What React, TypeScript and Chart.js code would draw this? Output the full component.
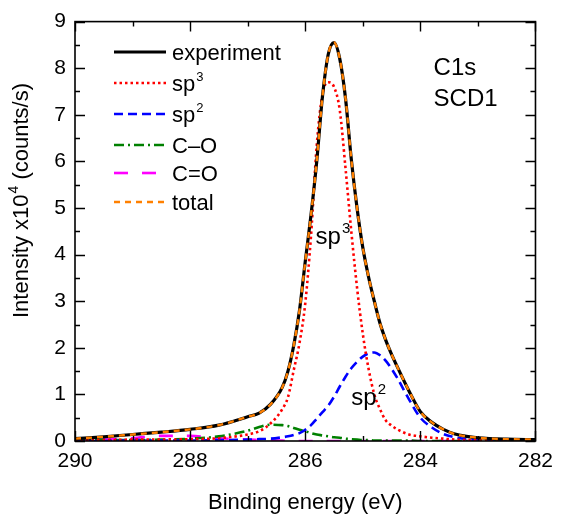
import React, { useEffect, useRef } from 'react';
import { Chart, registerables } from 'chart.js';

Chart.register(...registerables);

// Binding energy grid (eV)
const energy = [290, 289.5, 289, 288.5, 288, 287.5, 287, 286.8, 286.6, 286.4, 286.3, 286.2, 286.1, 286.0, 285.9, 285.8, 285.7, 285.6, 285.5, 285.4, 285.3, 285.2, 285.1, 285.0, 284.9, 284.8, 284.7, 284.6, 284.5, 284.4, 284.2, 284.0, 283.8, 283.6, 283.4, 283.2, 283.0, 282.5, 282.0];

// Intensity x10^4 (counts/s)
const experiment = [0.05, 0.09, 0.14, 0.19, 0.25, 0.34, 0.52, 0.60, 0.79, 1.15, 1.50, 2.05, 2.80, 3.85, 4.85, 6.00, 7.40, 8.30, 8.55, 8.20, 7.35, 6.05, 5.00, 4.15, 3.52, 3.00, 2.52, 2.16, 1.86, 1.59, 1.08, 0.63, 0.40, 0.25, 0.15, 0.10, 0.07, 0.04, 0.03];
const sp3 = [0.02, 0.02, 0.03, 0.03, 0.04, 0.06, 0.14, 0.21, 0.38, 0.68, 0.94, 1.52, 2.10, 2.95, 4.40, 6.35, 7.45, 7.70, 7.60, 7.10, 5.85, 4.50, 3.29, 2.30, 1.55, 1.00, 0.68, 0.44, 0.33, 0.25, 0.14, 0.10, 0.07, 0.05, 0.03, 0.02, 0.02, 0.01, 0.01];
const sp2 = [0.00, 0.00, 0.01, 0.01, 0.01, 0.02, 0.03, 0.04, 0.05, 0.08, 0.10, 0.13, 0.17, 0.24, 0.34, 0.48, 0.62, 0.76, 0.95, 1.17, 1.38, 1.56, 1.70, 1.81, 1.88, 1.90, 1.84, 1.72, 1.55, 1.35, 0.90, 0.50, 0.29, 0.15, 0.08, 0.04, 0.03, 0.01, 0.00];
const cO = [0.01, 0.02, 0.02, 0.03, 0.05, 0.10, 0.22, 0.30, 0.35, 0.34, 0.32, 0.28, 0.24, 0.21, 0.17, 0.14, 0.12, 0.10, 0.08, 0.07, 0.05, 0.04, 0.03, 0.02, 0.02, 0.01, 0.01, 0.01, 0.01, 0.01, 0.01, 0.00, 0.00, 0.00, 0.00, 0.00, 0.00, 0.00, 0.00];
const cdO = [0.01, 0.03, 0.06, 0.11, 0.11, 0.06, 0.03, 0.02, 0.01, 0.01, 0.00, 0.00, 0.00, 0.00, 0.00, 0.00, 0.00, 0.00, 0.00, 0.00, 0.00, 0.00, 0.00, 0.00, 0.00, 0.00, 0.00, 0.00, 0.00, 0.00, 0.00, 0.00, 0.00, 0.00, 0.00, 0.00, 0.00, 0.00, 0.00];
const totalFit = [0.05, 0.09, 0.14, 0.19, 0.25, 0.34, 0.52, 0.60, 0.79, 1.15, 1.50, 2.05, 2.80, 3.85, 4.85, 6.00, 7.40, 8.30, 8.55, 8.20, 7.35, 6.05, 5.00, 4.15, 3.52, 3.00, 2.52, 2.16, 1.86, 1.59, 1.08, 0.63, 0.40, 0.25, 0.15, 0.10, 0.07, 0.04, 0.03];

const xTickLabels = [290, 288, 286, 284, 282];
const yTickLabels = [0, 1, 2, 3, 4, 5, 6, 7, 8, 9];

const seriesNames = ['experiment', 'sp|3', 'sp|2', 'C–O', 'C=O', 'total'];

const FONT = '"Liberation Sans", Arial, Helvetica, sans-serif';

function drawSup(ctx: CanvasRenderingContext2D, x: number, y: number, label: string, size: number, supSize: number, raise: number) {
  const [base, sup] = label.split('|');
  ctx.font = `${size}px ${FONT}`;
  ctx.fillText(base, x, y);
  if (sup) {
    const w = ctx.measureText(base).width;
    ctx.font = `${supSize}px ${FONT}`;
    ctx.fillText(sup, x + w + 1, y - raise);
  }
}

const decorPlugin = {
  id: 'decor',
  afterDraw(chart: any) {
    const { ctx, chartArea, scales } = chart;
    const { left, right, top, bottom } = chartArea;
    const x = scales.x;
    const y = scales.y;
    ctx.save();
    ctx.strokeStyle = '#000';
    ctx.fillStyle = '#000';
    ctx.lineWidth = 1.6;
    ctx.setLineDash([]);
    ctx.strokeRect(left, top, right - left, bottom - top);

    const xVals: number[] = [];
    for (let i = 0; i < xTickLabels.length; i++) {
      xVals.push(xTickLabels[i]);
      if (i < xTickLabels.length - 1) xVals.push((xTickLabels[i] + xTickLabels[i + 1]) / 2);
    }
    ctx.lineWidth = 1.4;
    xVals.forEach((v) => {
      const major = xTickLabels.includes(v);
      const len = major ? 10 : 5;
      const px = Math.round(x.getPixelForValue(v)) + 0.5;
      ctx.beginPath();
      ctx.moveTo(px, bottom);
      ctx.lineTo(px, bottom - len);
      ctx.moveTo(px, top);
      ctx.lineTo(px, top + len);
      ctx.stroke();
    });
    const yVals: number[] = [];
    for (let i = 0; i < yTickLabels.length; i++) {
      yVals.push(yTickLabels[i]);
      if (i < yTickLabels.length - 1) yVals.push((yTickLabels[i] + yTickLabels[i + 1]) / 2);
    }
    yVals.forEach((v) => {
      const major = yTickLabels.includes(v);
      const len = major ? 10 : 5;
      const py = Math.round(y.getPixelForValue(v)) + 0.5;
      ctx.beginPath();
      ctx.moveTo(left, py);
      ctx.lineTo(left + len, py);
      ctx.moveTo(right, py);
      ctx.lineTo(right - len, py);
      ctx.stroke();
    });

    // legend
    const rows = [52, 83, 114, 145, 173, 202];
    chart.data.datasets.forEach((ds: any, i: number) => {
      const ry = rows[i];
      ctx.save();
      ctx.strokeStyle = ds.borderColor;
      ctx.lineWidth = ds.borderWidth;
      ctx.setLineDash(ds.borderDash || []);
      ctx.beginPath();
      ctx.moveTo(114, ry);
      ctx.lineTo(166, ry);
      ctx.stroke();
      ctx.restore();
      ctx.fillStyle = '#000';
      ctx.textAlign = 'left';
      ctx.textBaseline = 'alphabetic';
      drawSup(ctx, 172, ry + 8, seriesNames[i], 22, 13, 10);
    });

    // annotations
    ctx.textAlign = 'left';
    ctx.textBaseline = 'alphabetic';
    ctx.font = `24px ${FONT}`;
    ctx.fillText('C1s', x.getPixelForValue(283.77), y.getPixelForValue(7.85));
    ctx.fillText('SCD1', x.getPixelForValue(283.77), y.getPixelForValue(7.19));
    drawSup(ctx, x.getPixelForValue(285.82), y.getPixelForValue(4.22), 'sp|3', 24, 15, 11);
    drawSup(ctx, x.getPixelForValue(285.2), y.getPixelForValue(0.77), 'sp|2', 24, 15, 11);

    // axis titles
    ctx.font = `22px ${FONT}`;
    ctx.textAlign = 'center';
    ctx.fillText('Binding energy (eV)', (left + right) / 2, 509);

    ctx.save();
    ctx.translate(28, 318);
    ctx.rotate(-Math.PI / 2);
    ctx.textAlign = 'left';
    ctx.font = `22px ${FONT}`;
    const p1 = 'Intensity x10';
    ctx.fillText(p1, 0, 0);
    let w = ctx.measureText(p1).width;
    ctx.font = `14px ${FONT}`;
    ctx.fillText('4', w + 1, -10);
    w += ctx.measureText('4').width + 1;
    ctx.font = `22px ${FONT}`;
    ctx.fillText(' (counts/s)', w, 0);
    ctx.restore();

    ctx.restore();
  },
};

function mk(values: number[]) {
  return values.map((v, i) => ({ x: energy[i], y: v }));
}

export default function App() {
  const ref = useRef<HTMLCanvasElement | null>(null);
  useEffect(() => {
    if (!ref.current) return;
    const common = { pointRadius: 0, fill: false, cubicInterpolationMode: 'monotone' as const };
    const chart = new Chart(ref.current, {
      type: 'line',
      data: {
        datasets: [
          { ...common, label: 'experiment', data: mk(experiment), borderColor: '#000000', borderWidth: 3.2, order: 1 },
          { ...common, label: 'sp3', data: mk(sp3), borderColor: '#ff0000', borderWidth: 2.6, borderDash: [2.5, 3], order: 2 },
          { ...common, label: 'sp2', data: mk(sp2), borderColor: '#0000ff', borderWidth: 2.6, borderDash: [9, 5], order: 3 },
          { ...common, label: 'C–O', data: mk(cO), borderColor: '#008000', borderWidth: 2.6, borderDash: [10, 4, 2, 4], order: 4 },
          { ...common, label: 'C=O', data: mk(cdO), borderColor: '#ff00ff', borderWidth: 2.6, borderDash: [14, 14], order: 5 },
          { ...common, label: 'total', data: mk(totalFit), borderColor: '#ff8000', borderWidth: 2.4, borderDash: [6, 5], order: 0 },
        ],
      },
      options: {
        responsive: false,
        animation: false,
        layout: { padding: { top: 19, right: 21, left: 0, bottom: 0 } },
        plugins: { legend: { display: false }, tooltip: { enabled: false }, title: { display: false } },
        scales: {
          x: {
            type: 'linear',
            min: 282,
            max: 290,
            reverse: true,
            afterBuildTicks: (s: any) => { s.ticks = xTickLabels.map((v) => ({ value: v })); },
            ticks: { color: '#000', font: { family: FONT, size: 21 }, padding: 8, maxRotation: 0, autoSkip: false },
            grid: { display: false, drawTicks: false },
            border: { display: false },
            afterFit: (s: any) => { s.height = 73; },
          },
          y: {
            type: 'linear',
            min: 0,
            max: 9,
            afterBuildTicks: (s: any) => { s.ticks = yTickLabels.map((v) => ({ value: v })); },
            ticks: { color: '#000', font: { family: FONT, size: 21 }, padding: 9, autoSkip: false },
            grid: { display: false, drawTicks: false },
            border: { display: false },
            afterFit: (s: any) => { s.width = 75; },
          },
        },
      },
      plugins: [decorPlugin],
    });
    return () => chart.destroy();
  }, []);
  return (
    <div style={{ position: 'absolute', left: 0, top: 0, width: 561, height: 514, background: '#fff' }}>
      <canvas ref={ref} width={561} height={514} style={{ display: 'block' }} />
    </div>
  );
}
